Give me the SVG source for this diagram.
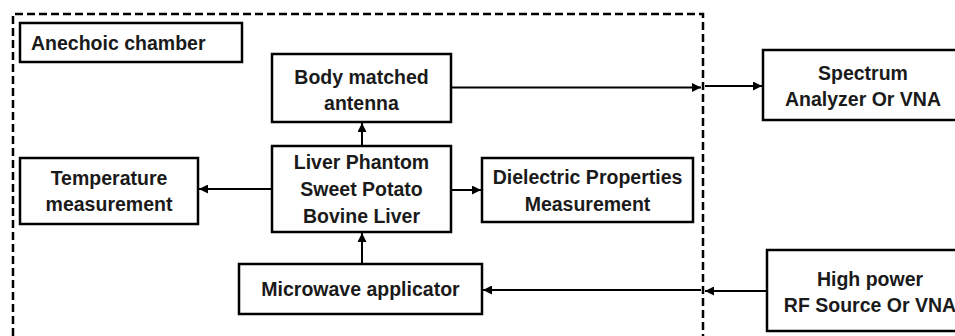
<svg xmlns="http://www.w3.org/2000/svg" width="955" height="336" viewBox="0 0 955 336">
<style>
.box{fill:#fff;stroke:#000;stroke-width:2.5}
.t{font-family:"Liberation Sans",Arial,sans-serif;font-weight:bold;font-size:19.5px;fill:#1a1a1a;text-anchor:middle;dominant-baseline:central}
.c{stroke:#000;stroke-width:2;fill:none;marker-end:url(#ah)}
.dash{stroke:#000;stroke-width:2.5;fill:none;stroke-dasharray:8 4}
</style>
<defs>
<marker id="ah" viewBox="0 0 10 10" refX="10" refY="5" markerWidth="4.5" markerHeight="4.5" orient="auto" markerUnits="strokeWidth">
<path d="M0,0 L10,5 L0,10 z" fill="#000"/>
</marker>
</defs>
<rect width="955" height="336" fill="#fff"/>
<g id="chamber">
<path class="dash" d="M13,336 L13,14 L703,14 L703,336"/>
</g>
<g id="label">
<rect class="box" x="20" y="23" width="222" height="39"/>
<text class="t" x="31" y="42.5" style="text-anchor:start">Anechoic chamber</text>
</g>
<g id="antenna">
<rect class="box" x="272" y="54" width="179" height="68"/>
<text class="t" x="361.5" y="77">Body matched</text>
<text class="t" x="361.5" y="103">antenna</text>
</g>
<g id="phantom">
<rect class="box" x="272" y="146" width="179" height="86"/>
<text class="t" x="361.5" y="162">Liver Phantom</text>
<text class="t" x="361.5" y="189">Sweet Potato</text>
<text class="t" x="361.5" y="216">Bovine Liver</text>
</g>
<g id="temperature">
<rect class="box" x="20" y="158" width="178" height="66"/>
<text class="t" x="109" y="178">Temperature</text>
<text class="t" x="109" y="204">measurement</text>
</g>
<g id="dielectric">
<rect class="box" x="482" y="158" width="211" height="64"/>
<text class="t" x="587.5" y="177">Dielectric Properties</text>
<text class="t" x="587.5" y="204">Measurement</text>
</g>
<g id="applicator">
<rect class="box" x="239" y="264" width="243" height="50"/>
<text class="t" x="360.5" y="289">Microwave applicator</text>
</g>
<g id="spectrum">
<rect class="box" x="763" y="50" width="200" height="70"/>
<text class="t" x="863" y="73">Spectrum</text>
<text class="t" x="863" y="99">Analyzer Or VNA</text>
</g>
<g id="source">
<rect class="box" x="767" y="250" width="200" height="81"/>
<text class="t" x="870" y="279">High power</text>
<text class="t" x="870" y="305">RF Source Or VNA</text>
</g>
<g id="connectors">
<line class="c" x1="451" y1="87.5" x2="701" y2="87.5"/>
<line class="c" x1="705" y1="86" x2="762" y2="86"/>
<line class="c" x1="362" y1="146" x2="362" y2="123"/>
<line class="c" x1="272" y1="189" x2="199" y2="189"/>
<line class="c" x1="451" y1="190" x2="481" y2="190"/>
<line class="c" x1="362" y1="264" x2="362" y2="233"/>
<line class="c" x1="701" y1="290" x2="483" y2="290"/>
<line class="c" x1="767" y1="291" x2="705" y2="291"/>
</g>
</svg>
